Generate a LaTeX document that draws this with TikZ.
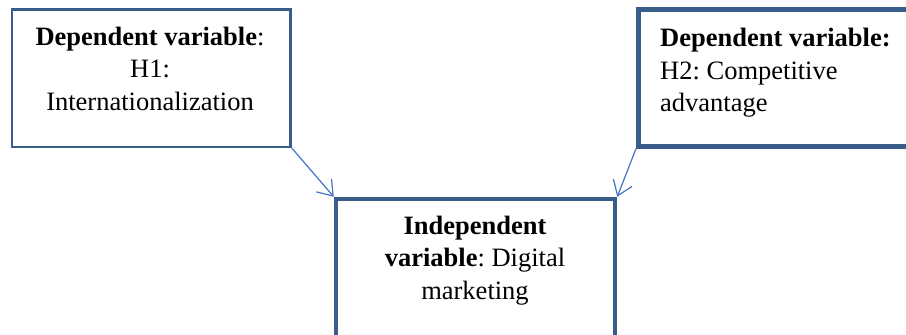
\documentclass[tikz,border=0pt]{standalone}
\usepackage{fontspec}
\setmainfont{Liberation Serif}
\usetikzlibrary{arrows.meta}
\frenchspacing

\definecolor{boxline}{HTML}{385D8A}
\definecolor{linkline}{HTML}{4472C4}

\tikzset{
  x=1pt, y=-1pt,
  varbox/.style={draw=boxline, fill=white, rectangle, inner sep=0pt},
  boxtext/.style={inner sep=0pt, anchor=north,
    font=\fontsize{26.5}{32.5}\selectfont},
  link/.style={draw=linkline, line width=1.2pt,
    -{Straight Barb[length=14pt, width=20pt, line width=1.2pt]}}
}

\begin{document}
\begin{tikzpicture}
  \useasboundingbox (0,0) rectangle (906,335);

  % the three variable boxes
  \node[varbox, line width=2.5pt, minimum width=278.7pt, minimum height=137.5pt]
    (dep1) at (151.35,78.25) {};
  \node[varbox, line width=4.5pt, minimum width=300pt, minimum height=136.6pt]
    (dep2) at (788.3,78) {};
  \node[varbox, line width=4.5pt, minimum width=279pt, minimum height=161pt]
    (indep) at (475.5,279.5) {};

  % texts inside the boxes
  \node[boxtext, align=center] (dep1text) at (150,26.9)
    {\textbf{Dependent variable}:\\H1:\\Internationalization};
  \node[boxtext, anchor=north west, align=left] (dep2text) at (660,28.4)
    {\textbf{Dependent variable:}\\H2: Competitive\\advantage};
  \node[boxtext, align=center] (indeptext) at (475,215.9)
    {\textbf{Independent}\\\textbf{variable}: Digital\\marketing};

  % hypothesis links
  \draw[link] (dep1.south east) -- (indep.north west);
  \draw[link] (dep2.south west) -- (indep.north east);
\end{tikzpicture}
\end{document}
